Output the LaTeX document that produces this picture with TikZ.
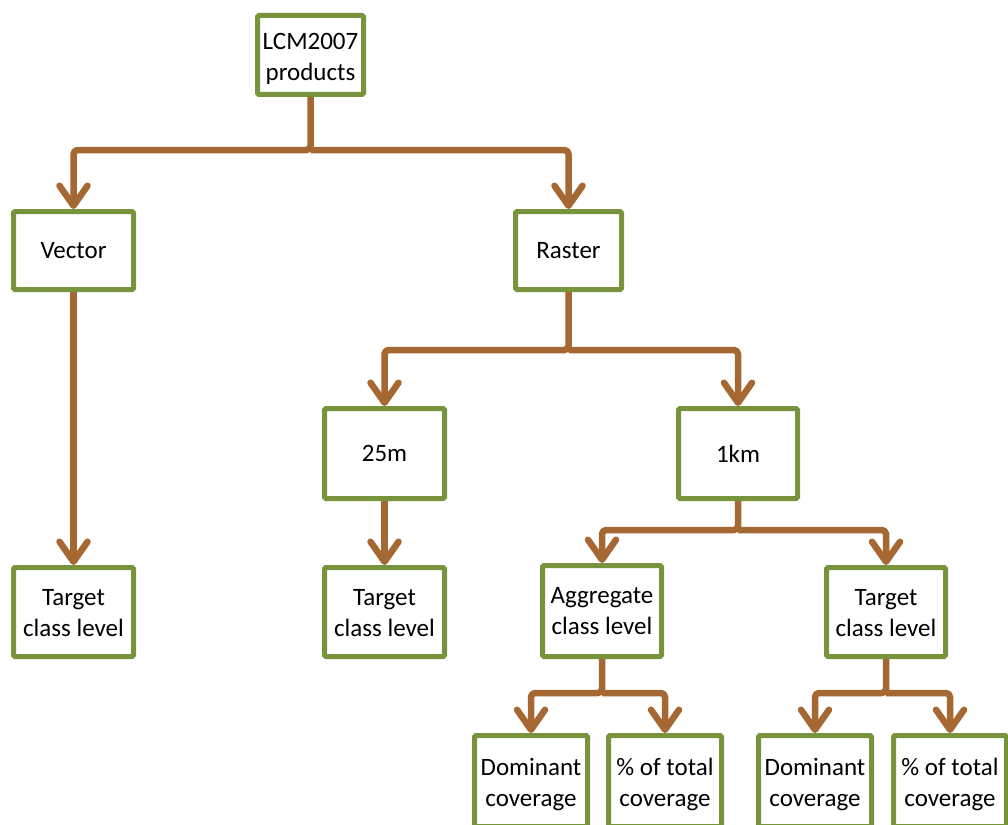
\documentclass[tikz,border=0pt]{standalone}
\usepackage{fontspec}
\setmainfont{Carlito}
\usetikzlibrary{arrows.meta}
\definecolor{boxgreen}{RGB}{119,147,60}
\definecolor{linebrown}{RGB}{166,104,50}
\newcommand{\lowtext}[2]{\raisebox{-#1}[\height][\depth]{\begin{tabular}{@{}c@{}}#2\end{tabular}}}
\tikzset{
  box/.style={draw=boxgreen, line width=5pt, fill=white, rounded corners=1.5pt,
    align=center, inner sep=2pt, font=\fontsize{25}{31}\selectfont},
  conn/.style={draw=linebrown, line width=6.5pt, line join=round, rounded corners=4pt,
    -{Straight Barb[length=20pt,width=28pt,line cap=round,line join=round]}}
}
\begin{document}
\begin{tikzpicture}[x=1pt,y=-1pt]
\useasboundingbox (0,0) rectangle (1008,824);
\clip (0,0) rectangle (1008,824);
\fill[white] (0,0) rectangle (1008,824);
% nodes
\node[box, minimum width=106pt, minimum height=79pt] (lcm) at (310.5,55) {\lowtext{4pt}{LCM2007\\products}};
\node[box, minimum width=120pt, minimum height=78pt] (vec) at (73.5,250.5) {Vector};
\node[box, minimum width=106pt, minimum height=78pt] (ras) at (568.5,250.5) {Raster};
\node[box, minimum width=120pt, minimum height=90pt] (m25) at (384.5,453.5) {25m};
\node[box, minimum width=119pt, minimum height=90pt] (km) at (738,453.5) {1km};
\node[box, minimum width=120pt, minimum height=89pt] (t1) at (73.5,612) {\lowtext{3pt}{Target\\class level}};
\node[box, minimum width=120pt, minimum height=89pt] (t2) at (384.5,612) {\lowtext{3pt}{Target\\class level}};
\node[box, minimum width=119pt, minimum height=91pt] (agg) at (602,611) {\lowtext{2pt}{Aggregate\\class level}};
\node[box, minimum width=119pt, minimum height=89pt] (t3) at (886,612) {\lowtext{3pt}{Target\\class level}};
\node[box, minimum width=113pt, minimum height=91pt] (d1) at (531,781) {\lowtext{4pt}{Dominant\\coverage}};
\node[box, minimum width=113pt, minimum height=91pt] (p1) at (665,781) {\lowtext{4pt}{\% of total\\coverage}};
\node[box, minimum width=113pt, minimum height=91pt] (d2) at (815,781) {\lowtext{4pt}{Dominant\\coverage}};
\node[box, minimum width=113pt, minimum height=91pt] (p2) at (950,781) {\lowtext{4pt}{\% of total\\coverage}};
% connectors
\draw[conn] (lcm.south) -- ++(0,53) coordinate (j0) -| (vec.north);
\draw[conn] (j0) -| (ras.north);
\draw[conn] (vec.south) -- (t1.north);
\draw[conn] (ras.south) -- ++(0,58) coordinate (j1) -| (m25.north);
\draw[conn] (j1) -| (km.north);
\draw[conn] (m25.south) -- (t2.north);
\draw[conn] (km.south) -- ++(0,29) coordinate (j2) -| (agg.north);
\draw[conn] (j2) -| (t3.north);
\draw[conn] (agg.south) -- ++(0,34) coordinate (j3) -| (d1.north);
\draw[conn] (j3) -| (p1.north);
\draw[conn] (t3.south) -- ++(0,34) coordinate (j4) -| (d2.north);
\draw[conn] (j4) -| (p2.north);
\end{tikzpicture}
\end{document}
